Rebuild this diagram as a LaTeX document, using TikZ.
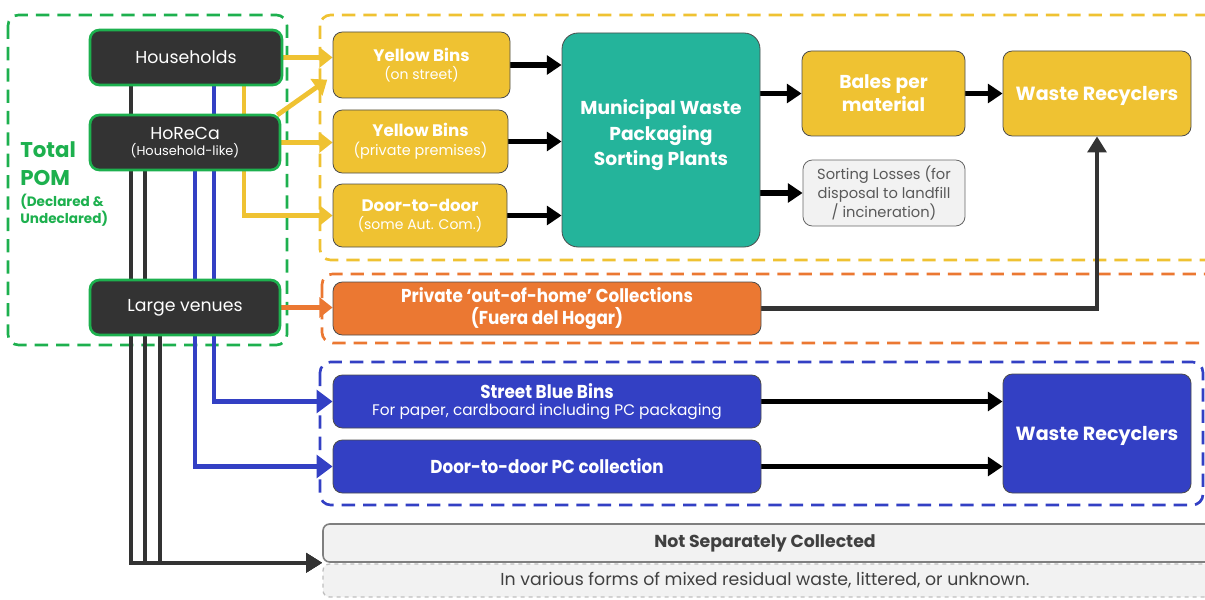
\documentclass[tikz,border=0pt]{standalone}
\usepackage{fontspec}
\setmainfont{Poppins}
\newfontfamily\cond[FakeStretch=0.9]{Poppins}
\usetikzlibrary{arrows.meta,backgrounds}
\definecolor{cgreen}{HTML}{1DB04E}
\definecolor{cdark}{HTML}{333333}
\definecolor{cyel}{HTML}{EFC232}
\definecolor{cteal}{HTML}{24B49B}
\definecolor{corange}{HTML}{EB7832}
\definecolor{cblue}{HTML}{3340C4}
\definecolor{cgrayf}{HTML}{F2F2F2}
\definecolor{cgrayd}{HTML}{7F7F7F}
\definecolor{ctext}{HTML}{404040}
\definecolor{cstext}{HTML}{595959}
\tikzset{
  sz/.style n args={2}{minimum width=#1*0.75pt, minimum height=#2*0.75pt},
  src/.style={fill=cdark, draw=cgreen, line width=2pt, rounded corners=7pt, inner sep=0pt, align=center, text=white},
  fbox/.style={draw=black!70, line width=0.6pt, rounded corners=7pt, inner sep=0pt, align=center, text=white},
  grp/.style={dash pattern=on 10pt off 6pt, line width=2pt, rounded corners=8pt},
  yarr/.style={draw=cyel, line width=3.6pt, -{Triangle[length=10pt,width=15pt,fill=cyel]}},
  karr/.style={draw=black, line width=3.8pt, -{Triangle[length=11pt,width=14pt]}},
  darr/.style={draw=cdark, line width=3.2pt, -{Triangle[length=12pt,width=14pt]}},
  barr/.style={draw=cblue, line width=3.6pt, -{Triangle[length=12pt,width=17pt]}},
  oarr/.style={draw=corange, line width=3.6pt, -{Triangle[length=10pt,width=15pt]}},
}
\begin{document}
\begin{tikzpicture}[x=0.75pt,y=-0.75pt]
\useasboundingbox (0,0) rectangle (1205,599);
% source nodes
\node[src, sz={192}{55}, font=\fontsize{13}{15}\selectfont] (hh) at (186,57.5) {Households};
\node[src, sz={190}{55}] (hr) at (185,142.5) {{\fontsize{13}{15}\selectfont HoReCa}\\[0pt]{\fontsize{9.7}{11}\selectfont (Household-like)}};
\node[src, sz={190}{55}, font=\fontsize{13}{15}\selectfont] (lv) at (185,307.5) {Large venues};
\node[anchor=north west, inner sep=0pt, align=left, text=cgreen, font=\bfseries\fontsize{16}{21}\selectfont] (tpom) at (20,141) {Total\\POM};
\node[anchor=north west, inner sep=0pt, align=left, text=cgreen, font=\bfseries\fontsize{10.2}{12.5}\selectfont] (decl) at (20,194) {(Declared \&\\Undeclared)};
% yellow stream
\node[fbox, fill=cyel, sz={177}{66}] (yb1) at (421.5,65) {{\bfseries\fontsize{12.5}{15}\selectfont Yellow Bins}\\[2pt]{\fontsize{10.5}{12}\selectfont (on street)}};
\node[fbox, fill=cyel, sz={175}{63}] (yb2) at (420.5,141.5) {{\bfseries\fontsize{12.5}{15}\selectfont Yellow Bins}\\[2pt]{\fontsize{10.8}{12}\selectfont (private premises)}};
\node[fbox, fill=cyel, sz={174}{63}] (dd) at (420,215.5) {{\bfseries\fontsize{12.5}{15}\selectfont Door-to-door}\\[2pt]{\fontsize{10.5}{12}\selectfont (some Aut. Com.)}};
\node[fbox, fill=cteal, rounded corners=12pt, sz={198}{214}, font=\bfseries\fontsize{14}{19}\selectfont] (mw) at (661,140) {\raisebox{0pt}[0pt][0pt]{\begin{tabular}{@{}c@{}}Municipal Waste\\Packaging\\Sorting Plants\end{tabular}}};
\node[fbox, fill=cyel, sz={163}{85}, font=\bfseries\fontsize{14}{17}\selectfont] (bales) at (883.5,93.5) {Bales per\\material};
\node[fbox, fill=cyel, sz={188}{85}, text depth=0pt, font=\bfseries\fontsize{14.3}{17}\selectfont] (wr1) at (1097,93.5) {Waste Recyclers};
\node[fbox, fill=cgrayf, draw=black!60, sz={162}{66}, text=cstext, font=\fontsize{11}{14}\selectfont] (sl) at (884,193) {Sorting Losses (for\\disposal to landfill\\/ incineration)};
% orange stream
\node[fbox, fill=corange, sz={428}{53}, font=\cond\bfseries\fontsize{14}{17}\selectfont] (pv) at (547,308.5) {Private ‘out-of-home’ Collections\\(Fuera del Hogar)};
% blue stream
\node[fbox, fill=cblue, sz={428}{53}] (sbb) at (547,401.5) {{\cond\bfseries\fontsize{14}{15}\selectfont Street Blue Bins}\\[1pt]{\fontsize{11.5}{12}\selectfont For paper, cardboard including PC packaging}};
\node[fbox, fill=cblue, sz={428}{53}, font=\cond\bfseries\fontsize{14}{15}\selectfont] (dpc) at (547,466.5) {Door-to-door PC collection};
\node[fbox, fill=cblue, sz={188}{119}, text depth=0pt, font=\bfseries\fontsize{14.3}{17}\selectfont] (wr2) at (1097,433.5) {Waste Recyclers};
% not separately collected
\node[draw=cgrayd, line width=1.2pt, fill=cgrayf, rounded corners=5pt, inner sep=0pt, sz={902}{38}, text=ctext, font=\bfseries\fontsize{13}{14}\selectfont] (nsc) at (774,543) {\hspace*{-13.5pt}Not Separately Collected};
\node[draw=black!25, dashed, line width=1pt, fill=cgrayf, rounded corners=5pt, inner sep=0pt, sz={902}{33}, text=ctext, font=\fontsize{13}{14}\selectfont] (nsc2) at (774,580.5) {\hspace*{-13.5pt}In various forms of mixed residual waste, littered, or unknown.};
% coordinates for vertical runs
\coordinate (xK1) at (131,0);
\coordinate (xK2) at (145,0);
\coordinate (xK3) at (160,0);
\coordinate (xB2) at (195,0);
\coordinate (xB1) at (214,0);
\coordinate (xY) at (244,0);
\begin{scope}[on background layer]
  \draw[grp, cgreen] (8,15) rectangle (287,345);
  \draw[grp, cyel] (320,15) rectangle (1225,260);
  \draw[grp, corange] (322,274) rectangle (1225,343);
  \draw[grp, cblue] (320,362) rectangle (1203,505);
  % dark runs to not separately collected
  \draw[darr] (hh.south -| xK1) |- (nsc.south west);
  \draw[darr] (hr.south -| xK2) |- (nsc.south west);
  \draw[darr] (lv.south -| xK3) |- (nsc.south west);
  % blue runs
  \draw[barr] (hh.south -| xB1) |- (sbb.west);
  \draw[barr] (hr.south -| xB2) |- (dpc.west);
  % yellow
  \draw[yarr] (hh.south -| xY) |- (dd.west);
  \draw[yarr] (hh.east) -- (hh.east -| yb1.west);
  \draw[yarr] ([xshift=-3pt,yshift=-1pt]hr.north east) -- ([xshift=-4pt,yshift=-11pt]yb1.west);
  \draw[yarr] (hr.east) -- (hr.east -| yb2.west);
  % orange
  \draw[oarr] (lv.east) -- (lv.east -| pv.west);
  % black
  \draw[karr] (yb1.east) -- (yb1.east -| mw.west);
  \draw[karr] (yb2.east) -- (yb2.east -| mw.west);
  \draw[karr] (dd.east) -- (dd.east -| mw.west);
  \draw[karr] (bales.west -| mw.east) -- (bales.west);
  \draw[karr] (sl.west -| mw.east) -- (sl.west);
  \draw[karr] (bales.east) -- (bales.east -| wr1.west);
  \draw[darr] (pv.east) -| (wr1.south);
  \draw[karr] (sbb.east) -- (sbb.east -| wr2.west);
  \draw[karr] (dpc.east) -- (dpc.east -| wr2.west);
\end{scope}
\end{tikzpicture}
\end{document}
